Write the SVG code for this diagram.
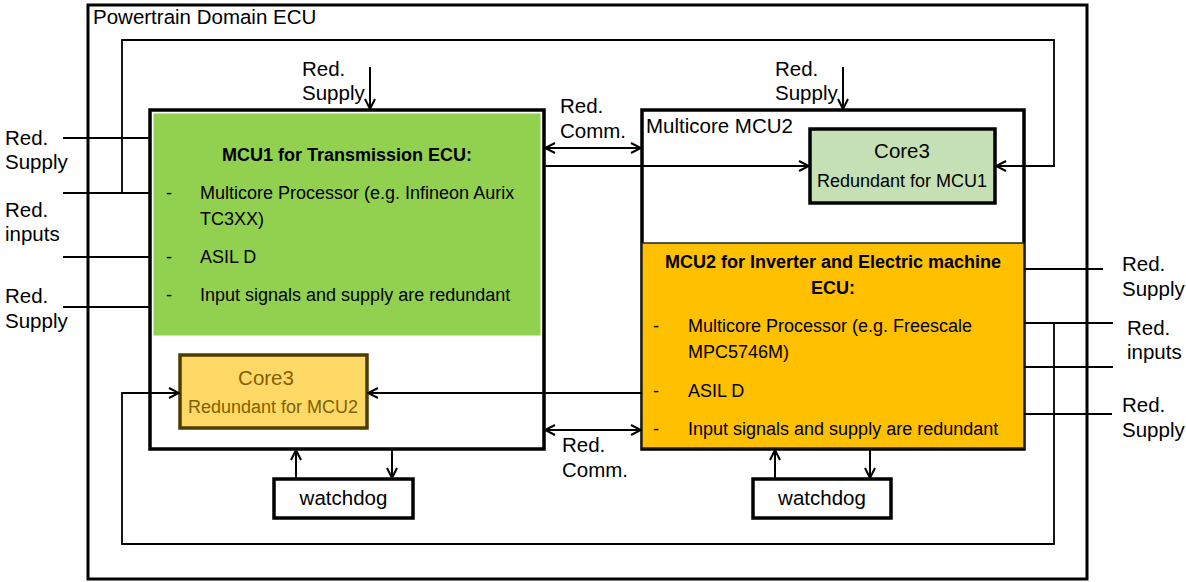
<svg xmlns="http://www.w3.org/2000/svg" width="1186" height="582" viewBox="0 0 1186 582">
  <defs>
    <style>
      text { font-family: "Liberation Sans", Arial, sans-serif; fill: #000; }
      .lbl { font-size: 20.5px; }
      .body { font-size: 18px; }
      .title { font-size: 18px; font-weight: bold; }
      .mid { text-anchor: middle; }
      .box { fill: #fff; stroke: #000; stroke-width: 3.5; }
      .wire { fill: none; stroke: #000; stroke-width: 2; }
      .loop { fill: none; stroke: #000; stroke-width: 1.8; }
    </style>
    <marker id="arr" viewBox="0 0 12 12" refX="11" refY="6" markerWidth="12" markerHeight="12" markerUnits="userSpaceOnUse" orient="auto-start-reverse">
      <path d="M1,1 L11,6 L1,11" fill="none" stroke="#000" stroke-width="2"/>
    </marker>
  </defs>

  <rect width="1186" height="582" fill="#fff"/>

  <!-- enclosing ECU -->
  <g id="powertrain-ecu">
    <rect x="88" y="5" width="999" height="574" fill="none" stroke="#000" stroke-width="3"/>
    <text class="lbl" x="93" y="24">Powertrain Domain ECU</text>
  </g>

  <!-- MCU1 -->
  <g id="mcu1">
    <rect class="box" x="150" y="110" width="394" height="339"/>
    <rect x="153.5" y="113.5" width="387" height="222" fill="#92D050"/>
    <text class="title mid" x="347" y="161">MCU1 for Transmission ECU:</text>
    <text class="body" x="166" y="199">-</text>
    <text class="body" x="200" y="199">Multicore Processor (e.g. Infineon Aurix</text>
    <text class="body" x="200" y="225">TC3XX)</text>
    <text class="body" x="166" y="263">-</text>
    <text class="body" x="200" y="263">ASIL D</text>
    <text class="body" x="166" y="301">-</text>
    <text class="body" x="200" y="301">Input signals and supply are redundant</text>
  </g>

  <g id="mcu1-core3">
    <rect x="180" y="355" width="187" height="73" fill="#FFD966" stroke="#4d3c00" stroke-width="3.5"/>
    <text class="mid" x="266" y="385" font-size="20.5" style="fill:#7F6000">Core3</text>
    <text class="mid" x="273" y="413" font-size="18" style="fill:#7F6000">Redundant for MCU2</text>
  </g>

  <g id="mcu1-watchdog">
    <rect class="box" x="274" y="479" width="139" height="39"/>
    <text class="lbl mid" x="343.5" y="505">watchdog</text>
  </g>

  <!-- MCU2 -->
  <g id="mcu2">
    <rect class="box" x="642" y="110" width="382" height="339"/>
    <text class="lbl" x="646" y="133">Multicore MCU2</text>
    <rect x="642" y="243" width="382" height="205" fill="#FFC000" stroke="#222" stroke-width="1.5"/>
    <text class="title mid" x="833" y="268">MCU2 for Inverter and Electric machine</text>
    <text class="title mid" x="833" y="294">ECU:</text>
    <text class="body" x="653" y="332">-</text>
    <text class="body" x="688" y="332">Multicore Processor (e.g. Freescale</text>
    <text class="body" x="688" y="358">MPC5746M)</text>
    <text class="body" x="653" y="397">-</text>
    <text class="body" x="688" y="397">ASIL D</text>
    <text class="body" x="653" y="435">-</text>
    <text class="body" x="688" y="435">Input signals and supply are redundant</text>
  </g>

  <g id="mcu2-core3">
    <rect x="810" y="129" width="185" height="74" fill="#C5E0B4" stroke="#000" stroke-width="3.5"/>
    <text class="mid" x="902" y="158" font-size="20.5">Core3</text>
    <text class="mid" x="902" y="187" font-size="18">Redundant for MCU1</text>
  </g>

  <g id="mcu2-watchdog">
    <rect class="box" x="753" y="479" width="138" height="39"/>
    <text class="lbl mid" x="822" y="505">watchdog</text>
  </g>

  <!-- signal labels -->
  <g id="labels">
    <text class="lbl" x="5" y="145">Red.</text>
    <text class="lbl" x="5" y="169">Supply</text>
    <text class="lbl" x="5" y="217">Red.</text>
    <text class="lbl" x="5" y="241">inputs</text>
    <text class="lbl" x="5" y="303">Red.</text>
    <text class="lbl" x="5" y="328">Supply</text>

    <text class="lbl" x="302" y="76">Red.</text>
    <text class="lbl" x="302" y="100">Supply</text>
    <text class="lbl" x="775" y="76">Red.</text>
    <text class="lbl" x="775" y="100">Supply</text>

    <text class="lbl" x="560" y="113">Red.</text>
    <text class="lbl" x="560" y="138">Comm.</text>
    <text class="lbl" x="562" y="452">Red.</text>
    <text class="lbl" x="562" y="477">Comm.</text>

    <text class="lbl" x="1122" y="271">Red.</text>
    <text class="lbl" x="1122" y="296">Supply</text>
    <text class="lbl" x="1127" y="335">Red.</text>
    <text class="lbl" x="1127" y="359">inputs</text>
    <text class="lbl" x="1122" y="412">Red.</text>
    <text class="lbl" x="1122" y="437">Supply</text>
  </g>

  <!-- connectors -->
  <g id="connectors">
    <!-- external inputs, left -->
    <path class="wire" d="M63,138 H150"/>
    <path class="wire" d="M63,193 H150"/>
    <path class="wire" d="M63,257 H150"/>
    <path class="wire" d="M63,307 H150"/>
    <!-- external inputs, right -->
    <path class="wire" d="M1024,269 H1103"/>
    <path class="wire" d="M1024,323 H1113"/>
    <path class="wire" d="M1024,367 H1113"/>
    <path class="wire" d="M1024,414 H1112"/>

    <!-- supply feeds from above -->
    <path class="wire" d="M370,67 V109" marker-end="url(#arr)"/>
    <path class="wire" d="M843,67 V109" marker-end="url(#arr)"/>

    <!-- MCU1 supply routed to redundant core in MCU2 -->
    <path class="loop" d="M122,193 V40 H1054 V166 H996" marker-end="url(#arr)"/>
    <!-- MCU2 inputs routed to redundant core in MCU1 -->
    <path class="loop" d="M1054,323 V544 H122 V393 H179" marker-end="url(#arr)"/>

    <!-- redundant communication -->
    <path class="wire" d="M545,148 H641" marker-start="url(#arr)" marker-end="url(#arr)"/>
    <path class="wire" d="M545,430 H641" marker-start="url(#arr)" marker-end="url(#arr)"/>

    <!-- cross links to redundant cores -->
    <path class="wire" d="M544,166 H809" marker-end="url(#arr)"/>
    <path class="wire" d="M642,393 H368" marker-end="url(#arr)"/>

    <!-- watchdog links -->
    <path class="wire" d="M296,478 V450" marker-end="url(#arr)"/>
    <path class="wire" d="M392,450 V478" marker-end="url(#arr)"/>
    <path class="wire" d="M775,478 V450" marker-end="url(#arr)"/>
    <path class="wire" d="M870,450 V478" marker-end="url(#arr)"/>
  </g>
</svg>
